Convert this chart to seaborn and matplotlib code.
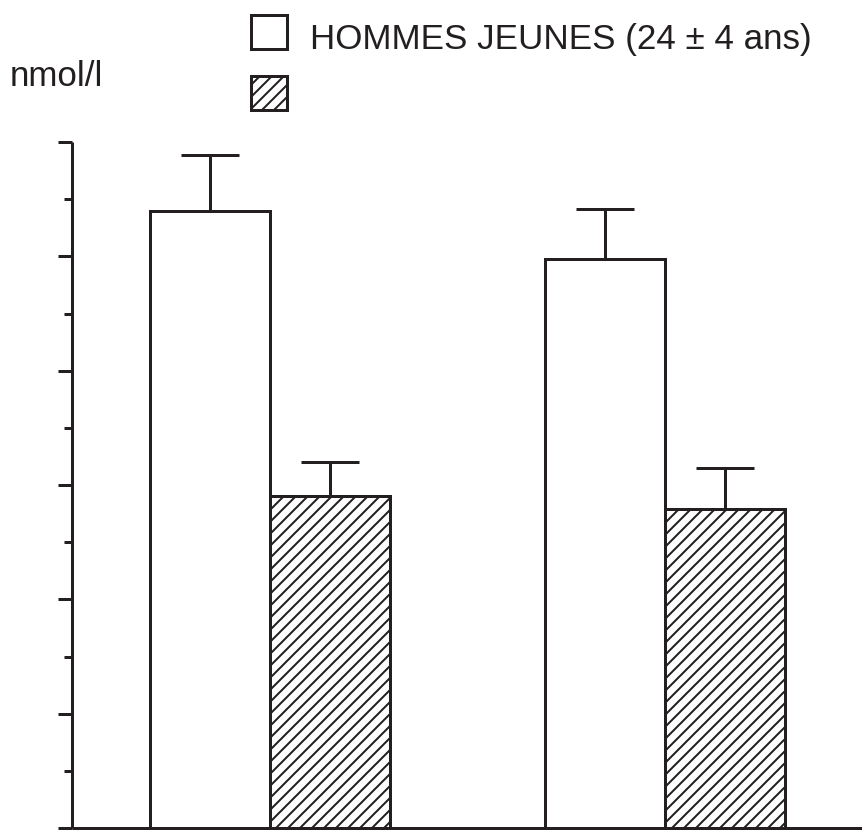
import matplotlib
matplotlib.use("Agg")
import matplotlib.pyplot as plt
import pandas as pd
import seaborn as sns
from matplotlib.patches import Patch
from matplotlib.ticker import MultipleLocator, NullFormatter

# data (y in major-tick units, axis has no labels)
groups = ["A", "B"]
series = ["HOMMES JEUNES (24 ± 4 ans)", " "]
young_mean = [5.40, 4.98]
young_err = [0.49, 0.43]
old_mean = [2.90, 2.79]
old_err = [0.30, 0.36]
y_unit = "nmol/l"

INK = "#231f20"
DPI = 72

sns.set_style("ticks")
plt.rcParams["font.family"] = ["Liberation Sans", "DejaVu Sans"]
plt.rcParams["hatch.linewidth"] = 2.0
plt.rcParams["hatch.color"] = INK

df = pd.DataFrame(
    {
        "group": groups * 2,
        "serie": [series[0]] * 2 + [series[1]] * 2,
        "value": young_mean + old_mean,
        "err": young_err + old_err,
    }
)

fig = plt.figure(figsize=(862 / DPI, 832 / DPI), dpi=DPI)
ax = fig.add_axes([72 / 862, 4 / 832, 790 / 862, 686 / 832])

sns.barplot(
    data=df,
    x="group",
    y="value",
    hue="serie",
    hue_order=series,
    order=groups,
    palette=["white", "white"],
    edgecolor=INK,
    linewidth=3,
    width=0.608,
    errorbar=None,
    legend=False,
    ax=ax,
)

# hatch the second series, add upward-only error bars
errs = [young_err, old_err]
bar_sets = list(ax.containers)
for k, cont in enumerate(bar_sets):
    for j, bar in enumerate(cont.patches):
        if k == 1:
            bar.set_hatch("//")
        xc = bar.get_x() + bar.get_width() / 2
        h = bar.get_height()
        ax.errorbar(
            [xc], [h], yerr=[[0], [errs[k][j]]], fmt="none",
            ecolor=INK, elinewidth=3, capsize=29, capthick=3, zorder=1,
        )

ax.set_xlim(-0.501, 1.499)
ax.set_ylim(0, 6)
ax.set_xlabel("")
ax.set_ylabel("")
ax.set_xticks([])
ax.yaxis.set_major_locator(MultipleLocator(1))
ax.yaxis.set_minor_locator(MultipleLocator(0.5))
ax.yaxis.set_major_formatter(NullFormatter())
ax.tick_params(axis="y", which="major", length=14, width=3, color=INK, direction="out")
ax.tick_params(axis="y", which="minor", length=8, width=3, color=INK, direction="out")
for side in ["left", "bottom"]:
    ax.spines[side].set_linewidth(3)
    ax.spines[side].set_color(INK)
    ax.spines[side].set_capstyle("butt")
sns.despine(ax=ax)

fig.text(10 / 862, 1 - 76 / 832, y_unit, ha="left", va="center", fontsize=35, color=INK)

handles = [
    Patch(facecolor="white", edgecolor=INK, linewidth=3),
    Patch(facecolor="white", edgecolor=INK, linewidth=3, hatch="//"),
]
leg = fig.legend(
    handles, series,
    loc="upper left",
    bbox_to_anchor=(251 / 862, 1 - 15 / 832),
    frameon=False,
    fontsize=35,
    handlelength=1.02,
    handleheight=1.1,
    handletextpad=0.68,
    labelspacing=0.72,
    borderpad=0,
    borderaxespad=0,
    labelcolor=INK,
)
# label sits a little below the square's centre in the original
for t in leg.get_texts():
    t.set_position((0, -5))

fig.savefig("out.png", dpi=DPI)
